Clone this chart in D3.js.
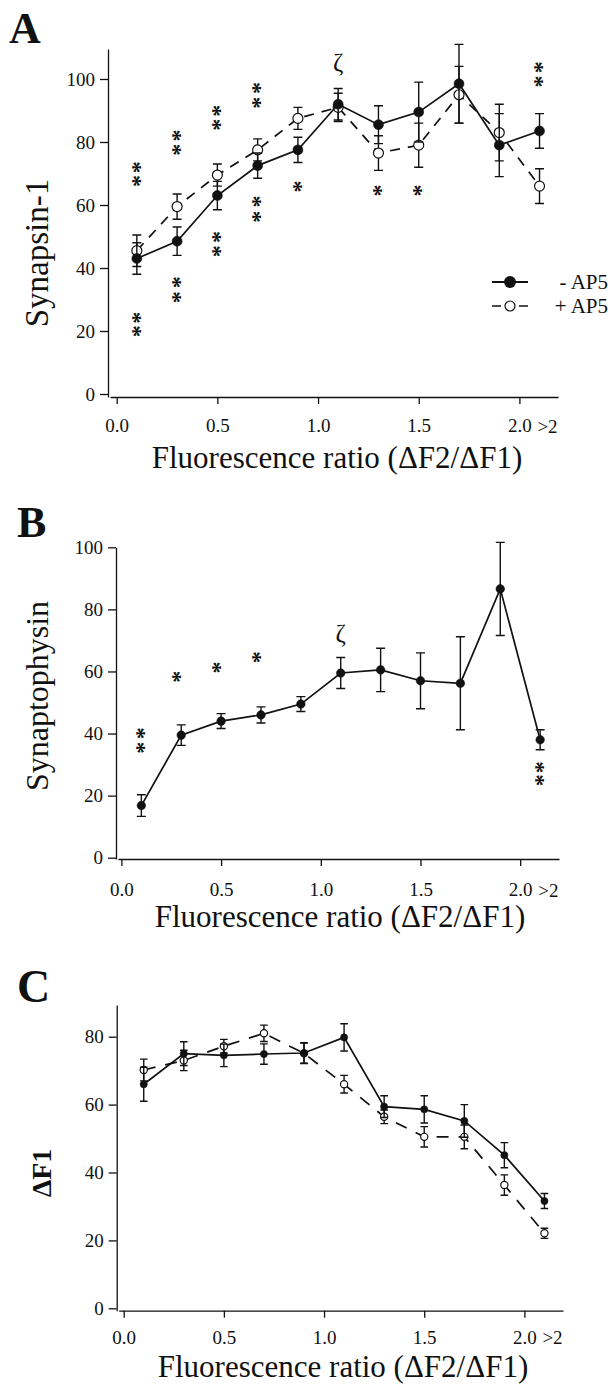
<!DOCTYPE html>
<html>
<script src='https://d3js.org/d3.v7.min.js'></script>
<style>
  html, body {
    margin: 0;
    padding: 0;
    background-color: #fff;
  }
</style>
<body>
<div id="vis"></div>
</body>
<script>
// x positions of the bins (last bin is the ">2" one)
var xVals = [0.1, 0.3, 0.5, 0.7, 0.9, 1.1, 1.3, 1.5, 1.7, 1.9, 2.1];

// A: synapsin-1
var synapsinMinus    = [43, 48.5, 63, 72.5, 77.5, 92, 85.5, 89.5, 98.5, 79, 83.5];
var synapsinMinusErr = [5, 4.5, 4.5, 4, 4, 5, 6, 9.5, 12.5, 10, 5.5];
var synapsinPlus     = [45.5, 59.5, 69.5, 77.5, 87.5, 91, 76.5, 79, 95, 83, 66];
var synapsinPlusErr  = [5, 4, 3.5, 3.5, 3.5, 4.5, 5.5, 7, 9, 9, 5.5];

// B: synaptophysin
var synaptophysin    = [16.8, 39.5, 44, 46, 49.5, 59.5, 60.5, 57, 56.2, 86.6, 38];
var synaptophysinErr = [3.5, 3.3, 2.4, 2.6, 2.4, 5, 7, 9, 15, 15, 3.2];

// C: dF1
var df1Minus    = [66, 75, 74.5, 74.9, 75.2, 79.8, 59.4, 58.6, 55.2, 45.1, 31.6];
var df1MinusErr = [5, 3.5, 3.3, 3, 3, 4, 3.2, 4, 4.8, 3.7, 2.2];
var df1Plus     = [70.2, 73, 77.2, 81, 75.1, 66, 56.4, 50.5, 50.5, 36.3, 22.1];
var df1PlusErr  = [3.2, 3, 2, 2.4, 3, 2.6, 2, 3, 3.5, 3, 1.5];

// significance marks: [x, [values of the stacked stars]]
var starsA = [[0.1, [71.7, 67.3]], [0.1, [24, 19.7]],
              [0.3, [81.7, 77.2]], [0.3, [35, 30.2]],
              [0.5, [89.6, 85.1]], [0.5, [49.5, 45]],
              [0.7, [96.7, 92]], [0.7, [60.6, 55.8]],
              [0.9, [65.9]], [1.3, [64.6]], [1.5, [64.6]],
              [2.1, [103.4, 98.9]]];
var starsB = [[0.1, [39.7, 35]], [0.28, [58.3]], [0.48, [61.3]], [0.68, [64.6]],
              [2.1, [29, 24.8]]];
var zetaA = [1.1, 105];
var zetaB = [1.1, 71.8];

var xTickVals = [0, 0.5, 1, 1.5, 2];
var xTickLabels = ['0.0', '0.5', '1.0', '1.5', '2.0'];
var yTicksAB = [0, 20, 40, 60, 80, 100];
var yTicksC = [0, 20, 40, 60, 80];
var legendLabels = ['- AP5', '+ AP5'];

var xTitle = 'Fluorescence ratio (\u0394F2/\u0394F1)';
var serif = "'Liberation Serif', 'Times New Roman', Times, 'DejaVu Serif', serif";

var svg = d3.select('#vis')
    .append('svg')
    .attr('width', 610)
    .attr('height', 1385)
    .attr('font-family', serif);

function font(s, size) {
    s.style('font-family', serif).style('font-size', size).attr('fill', '#111');
}

function makeSeries(vals, errs) {
    return xVals.map(function(x, i) {
        return {x: x, v: vals[i], e: errs[i]};
    });
}

function drawPanel(p) {
    var x = d3.scaleLinear().domain([0, 2]).range(p.xr);
    var y = d3.scaleLinear().domain([0, p.yv]).range(p.yr);
    var g = svg.append('g');

    // y axis
    var ya = y.copy().domain([y.invert(p.xAxisY), y.invert(p.yTop)]).range([p.xAxisY, p.yTop]);
    g.append('g')
        .attr('transform', 'translate(' + p.yAxisX + ',0)')
        .call(d3.axisLeft(ya).tickValues(p.yTicks).tickSize(8).tickPadding(5).tickSizeOuter(0))
        .call(function(s) {
            s.attr('font-family', null);
            font(s.selectAll('text'), '19px');
        });

    // x axis
    var xa = x.copy().domain([x.invert(p.yAxisX + 2), x.invert(p.xEnd)]).range([p.yAxisX + 2, p.xEnd]);
    g.append('g')
        .attr('transform', 'translate(0,' + p.xAxisY + ')')
        .call(d3.axisBottom(xa).tickValues(xTickVals).tickSize(7).tickPadding(p.xPad).tickSizeOuter(0)
            .tickFormat(function(d, i) { return xTickLabels[i]; }))
        .call(function(s) {
            s.attr('font-family', null);
            font(s.selectAll('text'), '19px');
        });
    g.selectAll('.domain, .tick line').attr('stroke', '#111').attr('stroke-width', 1.3);

    g.append('text')
        .attr('x', x(2) + 18)
        .attr('y', p.xLabelY)
        .call(font, '19px')
        .text('>2');

    // titles
    g.append('text')
        .attr('x', p.titleX)
        .attr('y', p.titleY)
        .attr('text-anchor', 'middle')
        .call(font, '31px')
        .text(xTitle);

    g.append('text')
        .attr('transform', 'translate(' + p.ylabX + ',' + p.ylabY + ') rotate(-90)')
        .attr('text-anchor', 'middle')
        .call(font, p.ylabSize)
        .style('font-weight', p.ylabWeight || 'normal')
        .text(p.ylab);

    g.append('text')
        .attr('x', p.letterX)
        .attr('y', p.letterY)
        .call(font, p.letterSize)
        .style('font-weight', 'bold')
        .text(p.letter);

    // series
    p.series.forEach(function(s) {
        var data = makeSeries(s.vals, s.errs);
        g.append('g').selectAll('path')
            .data(data)
            .enter()
            .append('path')
            .attr('d', function(d) {
                var cx = x(d.x), t = y(d.v + d.e), b = y(d.v - d.e), c = p.cap;
                return 'M' + cx + ',' + t + 'V' + b +
                       'M' + (cx - c) + ',' + t + 'H' + (cx + c) +
                       'M' + (cx - c) + ',' + b + 'H' + (cx + c);
            })
            .attr('stroke', '#111')
            .attr('stroke-width', 1.4)
            .attr('fill', 'none');

        var line = d3.line()
            .x(function(d) { return x(d.x); })
            .y(function(d) { return y(d.v); });

        g.append('path')
            .datum(data)
            .attr('d', line)
            .attr('fill', 'none')
            .attr('stroke', '#111')
            .attr('stroke-width', 1.7)
            .attr('stroke-dasharray', s.open ? p.dash : null);

        g.append('g').selectAll('circle')
            .data(data)
            .enter()
            .append('circle')
            .attr('cx', function(d) { return x(d.x); })
            .attr('cy', function(d) { return y(d.v); })
            .attr('r', p.r)
            .attr('fill', s.open ? '#fff' : '#111')
            .attr('stroke', '#111')
            .attr('stroke-width', s.open ? 1.2 : 0.5);
    });

    // stars: a stacked pair is one text run turned upright
    if (p.stars) {
        g.append('g').selectAll('text')
            .data(p.stars)
            .enter()
            .append('text')
            .attr('text-anchor', 'middle')
            .attr('dy', '0.47em')
            .call(font, '24px')
            .style('font-weight', 'bold')
            .each(function(d) {
                var ys = d[1].map(y);
                var gap = ys.length > 1 ? Math.abs(ys[1] - ys[0]) - 12 : 0;
                d3.select(this)
                    .attr('transform', 'translate(' + x(d[0]) + ',' + d3.mean(ys) + ') rotate(90)')
                    .style('letter-spacing', gap + 'px')
                    .text(d[1].map(function() { return '*'; }).join(''));
            });
    }
    if (p.zeta) {
        g.append('text')
            .attr('x', x(p.zeta[0]))
            .attr('y', y(p.zeta[1]))
            .attr('dy', '0.3em')
            .attr('text-anchor', 'middle')
            .call(font, '25px')
            .text('\u03b6');
    }
    return {x: x, y: y, g: g};
}

var pa = drawPanel({
    letter: 'A', letterX: 9, letterY: 43, letterSize: '44px',
    xr: [116.7, 519.4], yv: 100, yr: [394, 79],
    yAxisX: 108, yTop: 49, xAxisY: 397, xEnd: 558,
    yTicks: yTicksAB, xPad: 15, xLabelY: 433,
    titleX: 337, titleY: 468,
    ylab: 'Synapsin-1', ylabX: 48, ylabY: 253, ylabSize: '33px',
    r: 5, cap: 4.5, dash: '10,8',
    series: [
        {vals: synapsinPlus, errs: synapsinPlusErr, open: true},
        {vals: synapsinMinus, errs: synapsinMinusErr, open: false}
    ],
    stars: starsA, zeta: zetaA
});

// legend for A
var leg = pa.g.append('g');
leg.append('line').attr('x1', 492).attr('x2', 528).attr('y1', 282).attr('y2', 282)
    .attr('stroke', '#111').attr('stroke-width', 1.8);
leg.append('circle').attr('cx', 510).attr('cy', 282).attr('r', 6).attr('fill', '#111');
leg.append('line').attr('x1', 492).attr('x2', 528).attr('y1', 306).attr('y2', 306)
    .attr('stroke', '#111').attr('stroke-width', 1.4).attr('stroke-dasharray', '9,18');
leg.append('circle').attr('cx', 510).attr('cy', 306).attr('r', 5).attr('fill', '#fff')
    .attr('stroke', '#111').attr('stroke-width', 1.2);
leg.selectAll('text')
    .data(legendLabels)
    .enter()
    .append('text')
    .attr('x', 608)
    .attr('y', function(d, i) { return 288.5 + i * 24; })
    .attr('text-anchor', 'end')
    .call(font, '21px')
    .text(function(d) { return d; });

drawPanel({
    letter: 'B', letterX: 17, letterY: 537, letterSize: '44px',
    xr: [121.4, 520.2], yv: 100, yr: [857.7, 547.3],
    yAxisX: 116, yTop: 547.3, xAxisY: 859, xEnd: 559,
    yTicks: yTicksAB, xPad: 17, xLabelY: 897,
    titleX: 340, titleY: 927,
    ylab: 'Synaptophysin', ylabX: 48, ylabY: 696, ylabSize: '32px',
    r: 4.3, cap: 4.5, dash: null,
    series: [
        {vals: synaptophysin, errs: synaptophysinErr, open: false}
    ],
    stars: starsB, zeta: zetaB
});

drawPanel({
    letter: 'C', letterX: 17, letterY: 1002, letterSize: '46px',
    xr: [123.7, 524.4], yv: 80, yr: [1308.3, 1036.7],
    yAxisX: 116.7, yTop: 1005, xAxisY: 1310.7, xEnd: 563,
    yTicks: yTicksC, xPad: 13, xLabelY: 1344,
    titleX: 343, titleY: 1377,
    ylab: '\u0394F1', ylabX: 51, ylabY: 1173, ylabSize: '28px', ylabWeight: 'bold',
    r: 3.6, cap: 3.8, dash: '12,10',
    series: [
        {vals: df1Plus, errs: df1PlusErr, open: true},
        {vals: df1Minus, errs: df1MinusErr, open: false}
    ]
});
</script>
</html>
